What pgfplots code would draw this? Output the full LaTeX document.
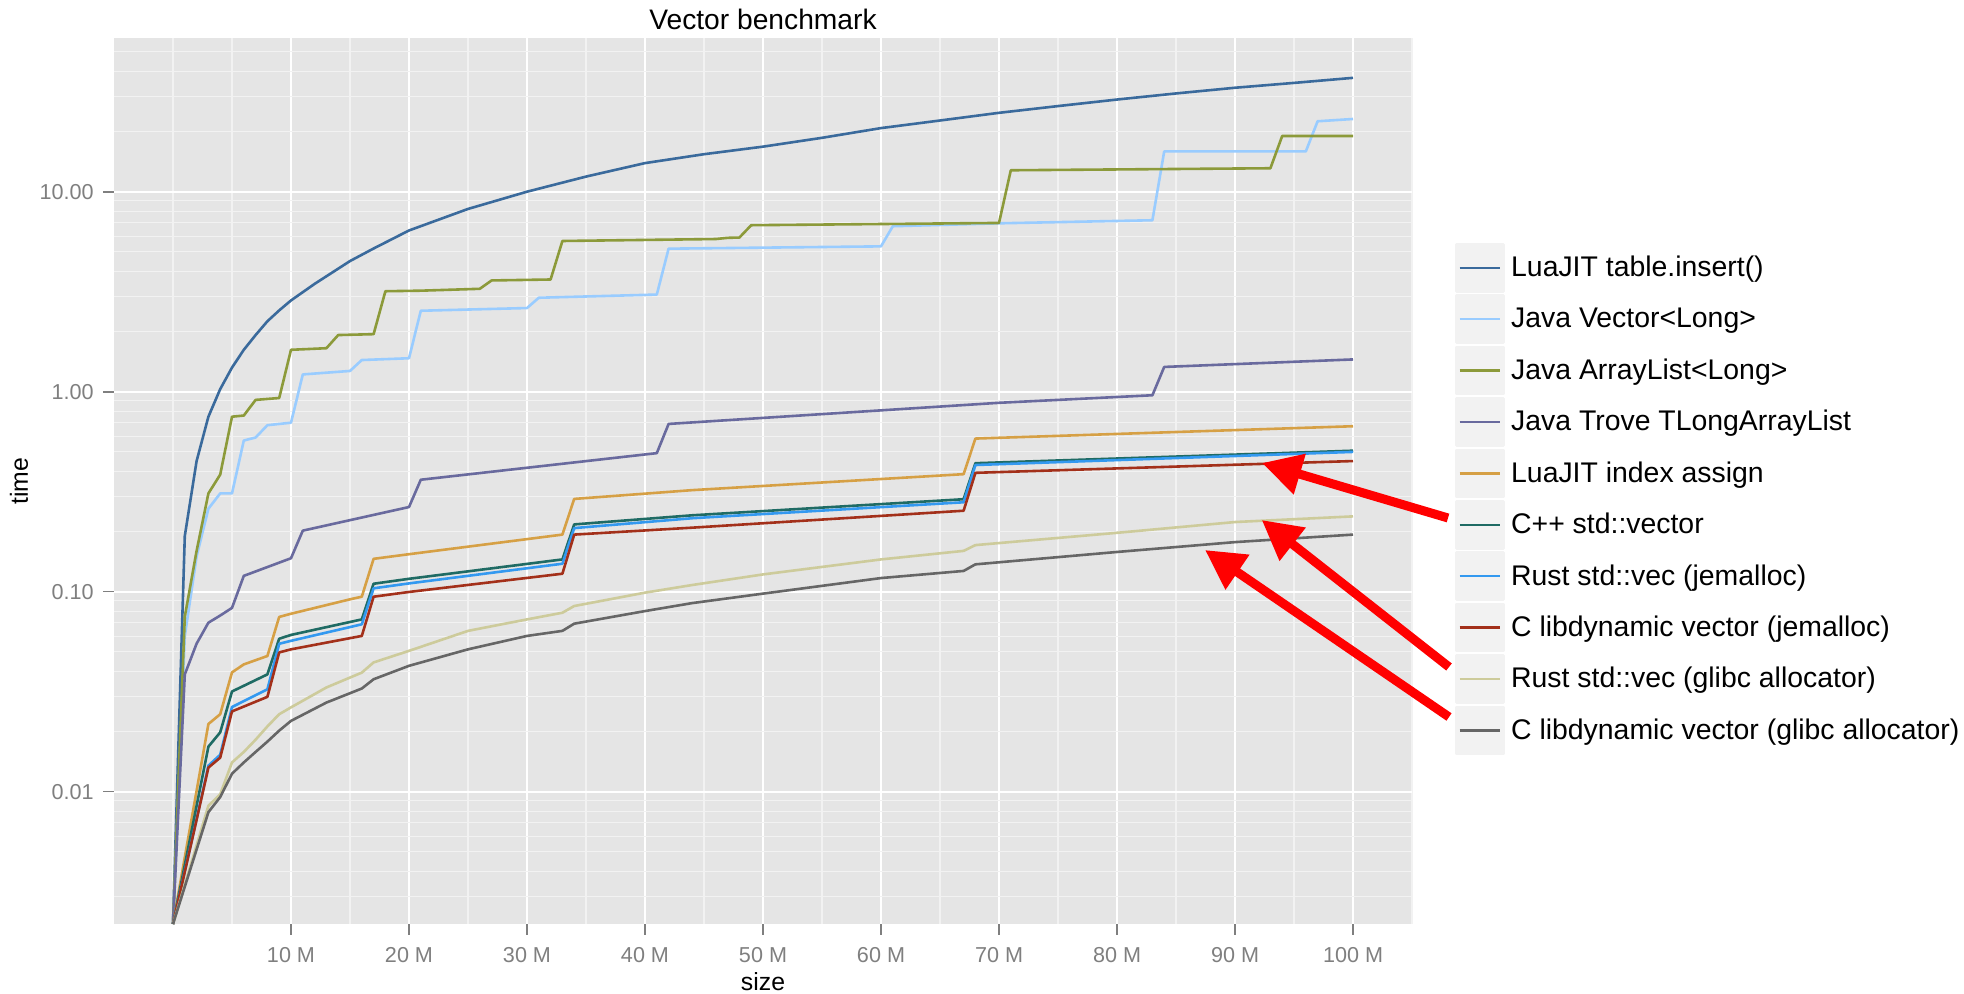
\documentclass[border=0pt]{standalone}
\usepackage{pgfplots}
\pgfplotsset{compat=1.18}
\usepackage{fontspec}
\setmainfont{Liberation Sans}
\usetikzlibrary{arrows.meta}
\definecolor{grey90}{HTML}{E5E5E5}
\definecolor{grey95}{HTML}{F2F2F2}
\definecolor{grey50}{HTML}{7F7F7F}
\definecolor{cA}{HTML}{3A6A9C}
\definecolor{cB}{HTML}{99CCFF}
\definecolor{cC}{HTML}{8C9A3A}
\definecolor{cD}{HTML}{696A9E}
\definecolor{cE}{HTML}{D6A045}
\definecolor{cF}{HTML}{1F6B64}
\definecolor{cG}{HTML}{3399F0}
\definecolor{cH}{HTML}{A3301A}
\definecolor{cI}{HTML}{CDCB9B}
\definecolor{cJ}{HTML}{666666}
\begin{document}
\begin{tikzpicture}
\path[use as bounding box] (0,0) rectangle (982pt,497pt);
\begin{axis}[
  at={(57pt,35pt)}, anchor=south west,
  scale only axis, width=649pt, height=443pt,
  ymode=log, log basis y=10,
  xmin=-5, xmax=105, ymin=0.00218, ymax=58.7,
  axis background/.style={fill=grey90},
  axis line style={draw=none},
  xtick={10,20,30,40,50,60,70,80,90,100},
  xticklabels={10 M,20 M,30 M,40 M,50 M,60 M,70 M,80 M,90 M,100 M},
  minor xtick={0,5,15,25,35,45,55,65,75,85,95,105},
  ytick={0.01,0.1,1,10},
  yticklabels={0.01,0.10,1.00,10.00},
  minor ytick={0.003,0.004,0.005,0.006,0.007,0.008,0.009,0.02,0.03,0.04,0.05,0.06,0.07,0.08,0.09,0.2,0.3,0.4,0.5,0.6,0.7,0.8,0.9,2,3,4,5,6,7,8,9,20,30,40,50},
  grid=both,
  major grid style={white, line width=1pt},
  minor grid style={grey95, line width=0.55pt},
  tick align=outside, xtick pos=bottom, ytick pos=left,
  major tick length=5.3pt, minor tick length=0pt,
  tick style={grey50, line width=0.8pt},
  ticklabel style={font=\fontsize{10.8}{12}\selectfont, text=grey50, inner sep=0pt},
  xticklabel shift=6pt, yticklabel shift=4.7pt,
  title={Vector benchmark},
  every axis title/.style={at={(axis description cs:0.5,1.0214)}, anchor=center, inner sep=0pt, font=\fontsize{14.1}{16}\selectfont},
  xlabel={size},
  every axis x label/.style={at={(axis description cs:0.5,-0.0655)}, anchor=center, inner sep=0pt, font=\fontsize{12.4}{14}\selectfont},
  ylabel={time},
  every axis y label/.style={at={(axis description cs:-0.0732,0.5)}, anchor=center, rotate=90, inner sep=0pt, font=\fontsize{12.4}{14}\selectfont},
  legend style={at={(axis description cs:1.0331,0.7686)}, anchor=north west, draw=none, fill=none,
    inner sep=0pt, outer sep=0pt, row sep=0.9pt, column sep=3.3pt,
    font=\fontsize{14.2}{16}\selectfont, nodes={inner sep=0pt}},
  legend cell align=left,
  legend image code/.code={\fill[grey95] (0pt,-11.75pt) rectangle (23.5pt,11.75pt); \draw[#1, line width=1.25pt] (1.7pt,0pt) -- (21.7pt,0pt);},
  every axis plot/.append style={line width=1.3pt, line join=round},
]
\addplot[cA, no marks] coordinates {(0,0.00218) (1,0.19) (2,0.45) (3,0.75) (4,1.03) (5,1.32) (6,1.62) (7,1.92) (8,2.25) (9,2.55) (10,2.86) (12,3.46) (15,4.5) (17,5.2) (20,6.4) (25,8.2) (30,10.0) (35,11.9) (40,13.9) (45,15.4) (50,16.8) (55,18.6) (60,20.8) (65,22.7) (70,24.8) (75,26.8) (80,28.9) (85,31.0) (90,33.1) (95,35.0) (100,37.1)};
\addlegendentry{LuaJIT table.insert()}
\addplot[cB, no marks] coordinates {(0,0.00218) (1,0.06) (2,0.15) (3,0.26) (4,0.31) (5,0.31) (6,0.57) (7,0.59) (8,0.68) (10,0.70) (11,1.22) (15,1.27) (16,1.44) (20,1.47) (21,2.54) (30,2.62) (31,2.95) (41,3.06) (42,5.19) (60,5.33) (61,6.72) (70,6.95) (83,7.2) (84,15.9) (96,15.9) (97,22.5) (100,23.1)};
\addlegendentry{Java Vector<Long>}
\addplot[cC, no marks] coordinates {(0,0.00218) (1,0.075) (2,0.16) (3,0.31) (4,0.385) (5,0.75) (6,0.76) (7,0.91) (9,0.93) (10,1.62) (13,1.65) (14,1.92) (17,1.94) (18,3.18) (21,3.2) (26,3.27) (27,3.6) (32,3.64) (33,5.67) (46,5.8) (47,5.88) (48,5.9) (49,6.8) (70,6.98) (71,12.8) (93,13.1) (94,19.0) (100,19.0)};
\addlegendentry{Java ArrayList<Long>}
\addplot[cD, no marks] coordinates {(0,0.00218) (1,0.0386) (2,0.055) (3,0.070) (4,0.076) (5,0.083) (6,0.12) (10,0.147) (11,0.202) (20,0.265) (21,0.363) (41,0.493) (42,0.69) (70,0.88) (83,0.96) (84,1.33) (100,1.45)};
\addlegendentry{Java Trove TLongArrayList}
\addplot[cE, no marks] coordinates {(0,0.00218) (1,0.0047) (2,0.0101) (3,0.0218) (4,0.0244) (5,0.0395) (6,0.0433) (8,0.0477) (9,0.0748) (10,0.0776) (15,0.0916) (16,0.0944) (17,0.146) (20,0.154) (33,0.193) (34,0.291) (44,0.322) (67,0.387) (68,0.583) (100,0.672)};
\addlegendentry{LuaJIT index assign}
\addplot[cF, no marks] coordinates {(0,0.00218) (1,0.0043) (2,0.0085) (3,0.0168) (4,0.0198) (5,0.0317) (8,0.0386) (9,0.0582) (10,0.0608) (16,0.0727) (17,0.1096) (20,0.116) (33,0.145) (34,0.217) (44,0.241) (67,0.29) (68,0.439) (100,0.507)};
\addlegendentry{C++ std::vector}
\addplot[cG, no marks] coordinates {(0,0.00218) (1,0.0040) (2,0.0073) (3,0.0135) (4,0.0153) (5,0.0265) (8,0.0325) (9,0.0549) (10,0.0568) (16,0.0687) (17,0.104) (20,0.110) (33,0.138) (34,0.208) (44,0.233) (67,0.28) (68,0.43) (100,0.50)};
\addlegendentry{Rust std::vec (jemalloc)}
\addplot[cH, no marks] coordinates {(0,0.00218) (1,0.00397) (2,0.00724) (3,0.0132) (4,0.0148) (5,0.0252) (8,0.0298) (9,0.0497) (10,0.0515) (16,0.0601) (17,0.0944) (20,0.0997) (33,0.123) (34,0.193) (44,0.209) (67,0.254) (68,0.393) (100,0.45)};
\addlegendentry{C libdynamic vector (jemalloc)}
\addplot[cI, no marks] coordinates {(0,0.00218) (1,0.00343) (2,0.0054) (3,0.0085) (4,0.0097) (5,0.014) (6,0.0158) (7,0.0182) (8,0.0212) (9,0.0244) (10,0.0264) (13,0.0332) (16,0.0394) (17,0.0443) (20,0.0506) (25,0.0637) (30,0.0727) (33,0.0785) (34,0.0848) (40,0.0989) (44,0.108) (50,0.122) (60,0.145) (67,0.16) (68,0.171) (80,0.197) (90,0.223) (100,0.238)};
\addlegendentry{Rust std::vec (glibc allocator)}
\addplot[cJ, no marks] coordinates {(0,0.00218) (1,0.00335) (2,0.00514) (3,0.0079) (4,0.0094) (5,0.0123) (6,0.0140) (7,0.0158) (8,0.0178) (9,0.0202) (10,0.0226) (13,0.0279) (16,0.0328) (17,0.0365) (20,0.0426) (25,0.0515) (30,0.0601) (33,0.0637) (34,0.0692) (40,0.08) (44,0.0877) (50,0.0978) (60,0.117) (67,0.127) (68,0.137) (80,0.158) (90,0.177) (100,0.193)};
\addlegendentry{C libdynamic vector (glibc allocator)}
\end{axis}
\begin{scope}[red, line width=4.5pt, -{Triangle[length=19.7pt, width=20pt]}]
\draw (724pt,238pt) -- (631pt,265.5pt);
\draw (724.5pt,163.5pt) -- (630.85pt,237pt);
\draw (724.5pt,138.5pt) -- (602.5pt,222pt);
\end{scope}
\end{tikzpicture}
\end{document}
